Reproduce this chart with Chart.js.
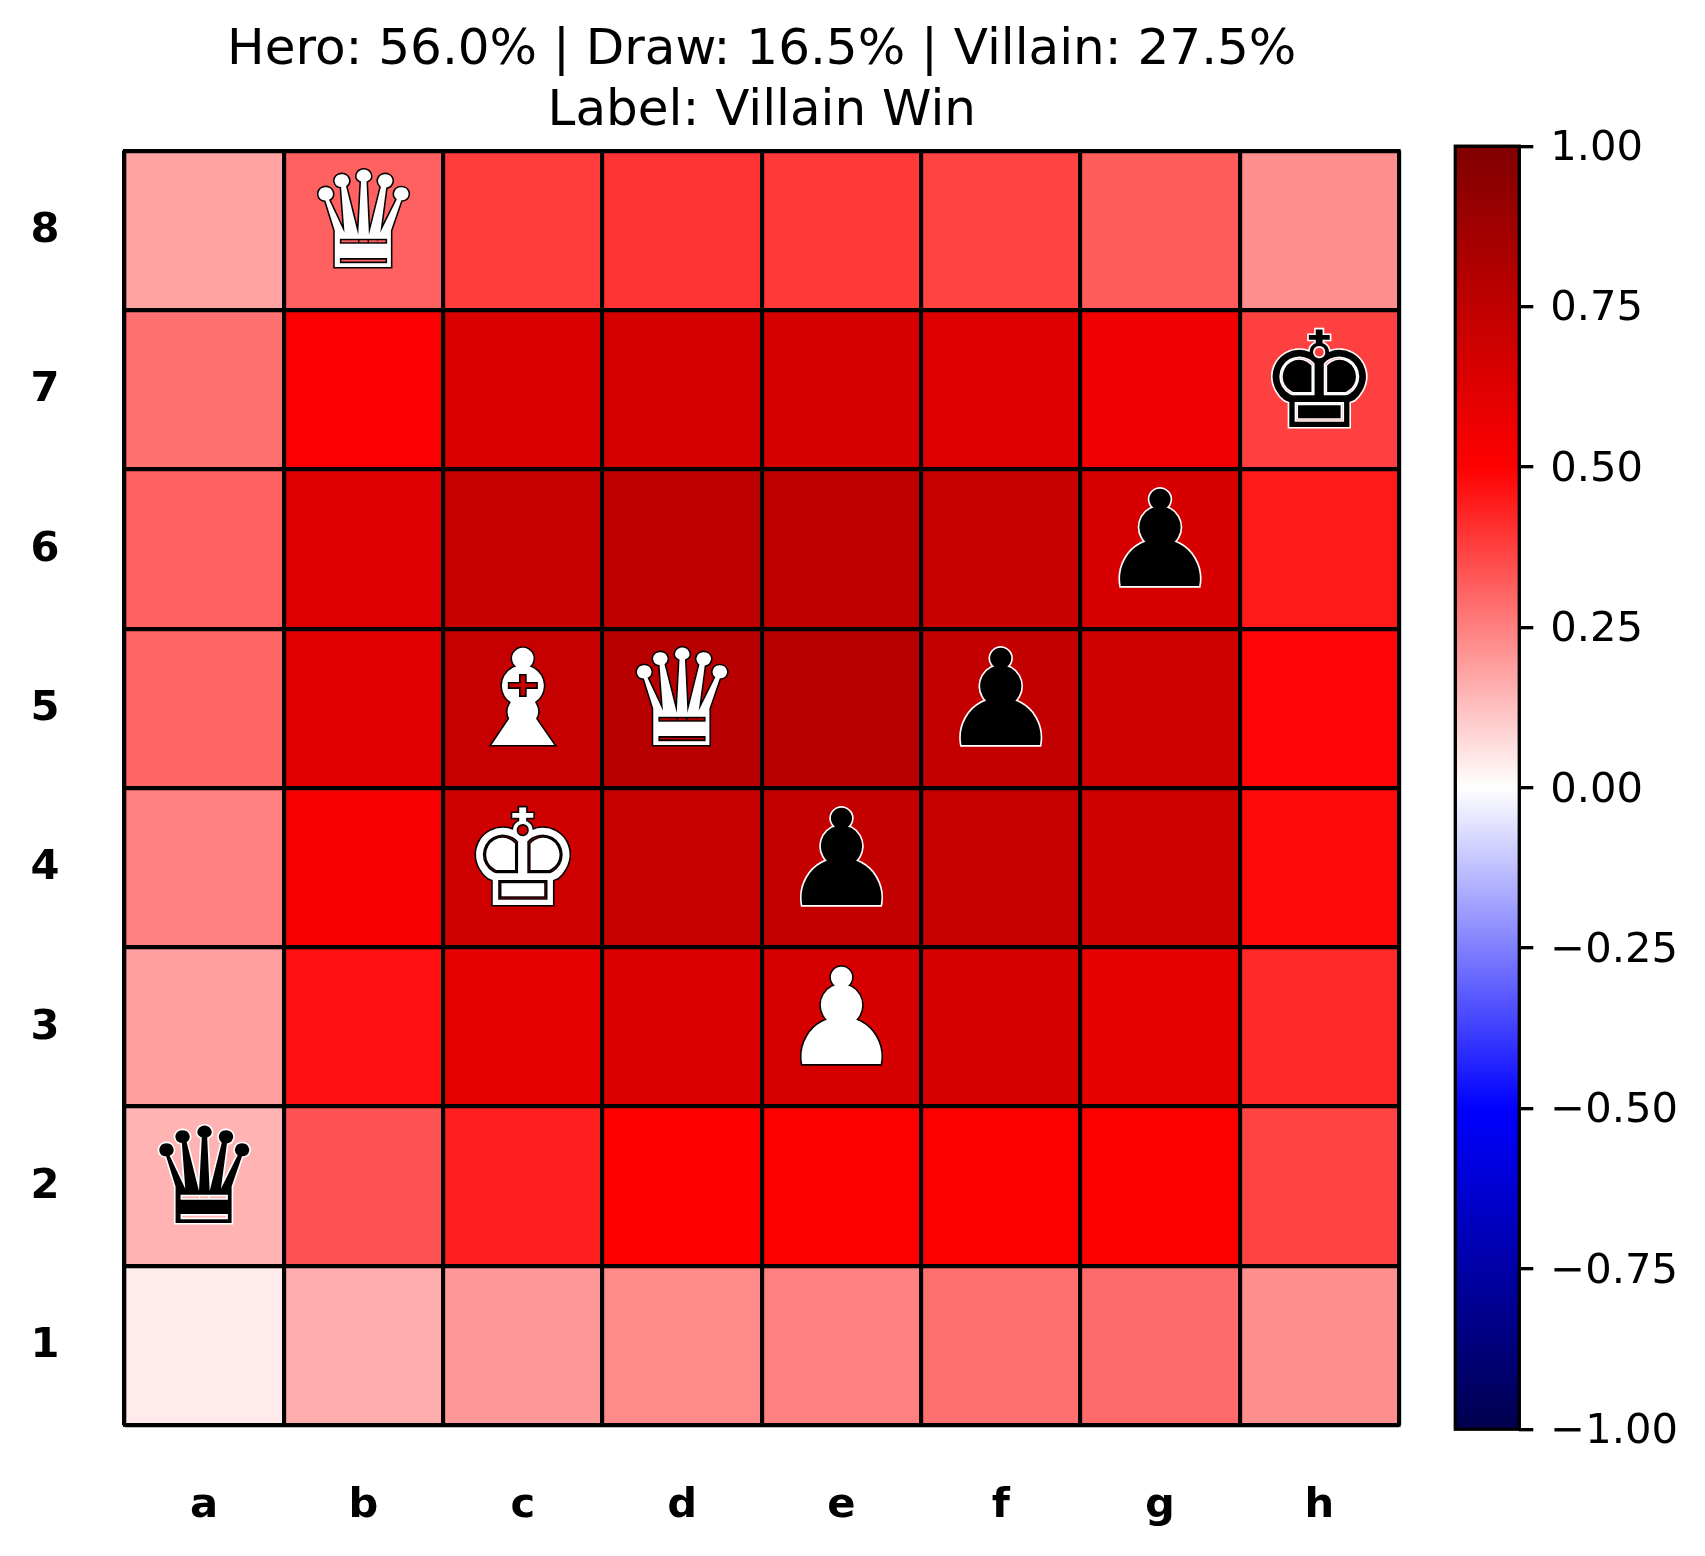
<!DOCTYPE html>
<html>
<head>
<meta charset="utf-8">
<title>Board heatmap</title>
<script src="https://cdn.jsdelivr.net/npm/chart.js@4"></script>
<style>
    html, body { margin: 0; padding: 0; background: #fff; }
    canvas { position: absolute; top: 0; }
</style>
</head>
<body>
<canvas id="boardChart" width="1705" height="1556" style="left:0"></canvas>
<canvas id="barChart" width="305" height="1556" style="left:1400px"></canvas>
<script>
const titleLines = ['Hero: 56.0% | Draw: 16.5% | Villain: 27.5%', 'Label: Villain Win'];
const files = ['a', 'b', 'c', 'd', 'e', 'f', 'g', 'h'];
const ranks = [8, 7, 6, 5, 4, 3, 2, 1];

const rank8 = [0.18, 0.31, 0.38, 0.40, 0.39, 0.37, 0.32, 0.22];
const rank7 = [0.28, 0.515, 0.65, 0.67, 0.66, 0.63, 0.56, 0.375];
const rank6 = [0.31, 0.63, 0.725, 0.75, 0.75, 0.715, 0.66, 0.45];
const rank5 = [0.30, 0.62, 0.725, 0.775, 0.775, 0.735, 0.69, 0.49];
const rank4 = [0.25, 0.53, 0.69, 0.72, 0.735, 0.725, 0.69, 0.48];
const rank3 = [0.19, 0.47, 0.60, 0.645, 0.66, 0.655, 0.60, 0.42];
const rank2 = [0.15, 0.34, 0.44, 0.50, 0.51, 0.51, 0.51, 0.37];
const rank1 = [0.04, 0.16, 0.20, 0.23, 0.25, 0.28, 0.29, 0.22];
const rankValues = [rank8, rank7, rank6, rank5, rank4, rank3, rank2, rank1];

const pieceGlyphs = ['♛', '♚', '♟', '♝', '♛', '♟', '♚', '♟', '♟', '♛'];
const pieceFiles  = ['b', 'h', 'g', 'c', 'd', 'f', 'c', 'e', 'e', 'a'];
const pieceRanks  = [8, 7, 6, 5, 5, 5, 4, 4, 3, 2];
const pieceSides  = ['w', 'b', 'b', 'w', 'w', 'b', 'w', 'b', 'w', 'b'];

const barTicks = [-1, -0.75, -0.5, -0.25, 0, 0.25, 0.5, 0.75, 1];

// seismic colormap stops
const cmapAt = [-1, -0.5, 0, 0.5, 1];
const cmapRed = [0, 0, 1, 1, 0.5];
const cmapGreen = [0, 0, 1, 0, 0];
const cmapBlue = [0.3, 1, 1, 0, 0];

const fontName = '"DejaVu Sans"';

function seismic(v) {
    let i = 0;
    while (i < cmapAt.length - 2 && v > cmapAt[i + 1]) i++;
    const t = (v - cmapAt[i]) / (cmapAt[i + 1] - cmapAt[i]);
    const mix = arr => Math.round(255 * (arr[i] + (arr[i + 1] - arr[i]) * t));
    return `rgb(${mix(cmapRed)},${mix(cmapGreen)},${mix(cmapBlue)})`;
}

// black outline round the plot area, both charts use it
const framePlugin = {
    id: 'frame',
    afterDraw(chart) {
        const a = chart.chartArea;
        const c = chart.ctx;
        c.save();
        c.strokeStyle = '#000';
        c.lineWidth = 3.33;
        c.strokeRect(a.left, a.top, a.right - a.left, a.bottom - a.top);
        c.restore();
    }
};

const piecesPlugin = {
    id: 'pieces',
    afterDraw(chart) {
        const c = chart.ctx;
        c.save();
        c.font = '133.33px ' + fontName;
        c.textAlign = 'center';
        c.textBaseline = 'alphabetic';
        c.lineJoin = 'miter';
        c.lineWidth = 3.2;
        pieceGlyphs.forEach((glyph, i) => {
            const x = chart.scales.x.getPixelForValue(files.indexOf(pieceFiles[i]));
            const y = chart.scales.y.getPixelForValue(pieceRanks[i]) + 37;
            c.strokeStyle = pieceSides[i] === 'w' ? '#000' : '#fff';
            c.fillStyle = pieceSides[i] === 'w' ? '#fff' : '#000';
            c.strokeText(glyph, x, y);
            c.fillText(glyph, x, y);
        });
        c.restore();
    }
};

new Chart(document.getElementById('boardChart'), {
    type: 'bar',
    data: {
        labels: files,
        datasets: rankValues.map((vals, r) => ({
            data: vals.map(() => [ranks[r] - 0.5, ranks[r] + 0.5]),
            backgroundColor: vals.map(seismic),
            borderWidth: 0
        }))
    },
    options: {
        responsive: false,
        devicePixelRatio: 1,
        animation: false,
        layout: { padding: { right: 306 } },
        datasets: { bar: { grouped: false, barPercentage: 1, categoryPercentage: 1 } },
        plugins: {
            legend: { display: false },
            tooltip: { enabled: false },
            title: {
                display: true,
                text: titleLines,
                fullSize: false,
                color: '#000',
                font: { family: fontName, size: 50, weight: 'normal', lineHeight: 1.22 },
                padding: { top: 20.2, bottom: 8.5 }
            }
        },
        scales: {
            x: {
                type: 'category',
                offset: true,
                grid: { color: '#000', lineWidth: 4.17, drawTicks: false, z: 1 },
                border: { display: false },
                ticks: { color: '#000', padding: 56, maxRotation: 0, font: { family: fontName, size: 41.67, weight: 'bold' } },
                afterFit: s => { s.height = 130.8; }
            },
            y: {
                type: 'linear',
                min: 0.5,
                max: 8.5,
                afterBuildTicks: s => {
                    s.ticks = [];
                    for (let v = 0.5; v <= 8.5; v += 0.5) s.ticks.push({ value: v });
                },
                grid: {
                    color: c => (c.tick.value % 1 ? '#000' : 'rgba(0,0,0,0)'),
                    lineWidth: 4.17, drawTicks: false, z: 1
                },
                border: { display: false },
                ticks: {
                    color: '#000',
                    padding: 65,
                    labelOffset: 1,
                    autoSkip: false,
                    callback: v => (v % 1 ? '' : String(v)),
                    font: { family: fontName, size: 41.67, weight: 'bold' }
                },
                afterFit: s => { s.width = 124.5; }
            }
        }
    },
    plugins: [framePlugin, piecesPlugin]
});

new Chart(document.getElementById('barChart'), {
    type: 'bar',
    data: {
        labels: [''],
        datasets: [{
            data: [[-1, 1]],
            borderWidth: 0,
            barPercentage: 1,
            categoryPercentage: 1,
            backgroundColor: c => {
                const area = c.chart.chartArea;
                if (!area) return '#000';
                const g = c.chart.ctx.createLinearGradient(0, area.bottom, 0, area.top);
                cmapAt.forEach(v => g.addColorStop((v + 1) / 2, seismic(v)));
                return g;
            }
        }]
    },
    options: {
        responsive: false,
        devicePixelRatio: 1,
        animation: false,
        layout: { padding: { left: 55.3, top: 146.2, bottom: 126.8 } },
        plugins: { legend: { display: false }, tooltip: { enabled: false } },
        scales: {
            x: { display: false },
            y: {
                position: 'right',
                min: -1,
                max: 1,
                afterBuildTicks: s => { s.ticks = barTicks.map(v => ({ value: v })); },
                grid: { drawOnChartArea: false, color: '#000', lineWidth: 3.33, tickLength: 14 },
                border: { display: false },
                ticks: {
                    color: '#000',
                    padding: 17,
                    labelOffset: 3,
                    callback: v => (v < 0 ? '\u2212' : '') + Math.abs(v).toFixed(2),
                    font: { family: fontName, size: 41.67 }
                },
                afterFit: s => { s.width = 185.7; }
            }
        }
    },
    plugins: [framePlugin]
});
</script>
</body>
</html>
